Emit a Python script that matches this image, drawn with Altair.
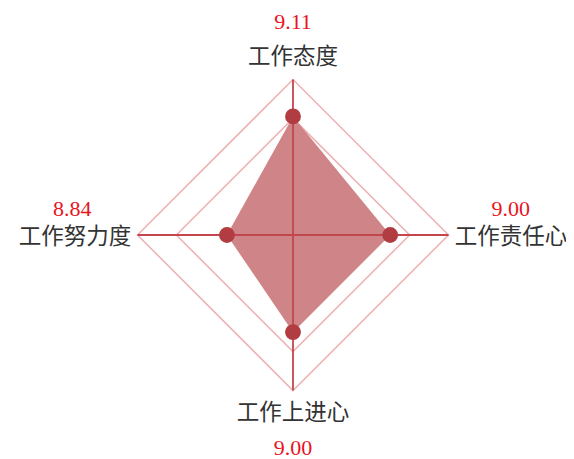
import altair as alt
import pandas as pd

categories = ["工作态度", "工作责任心", "工作上进心", "工作努力度"]
values = [9.11, 9.00, 9.00, 8.84]
ring_levels = [9.1, 9.3]
r_min, r_max = 8.5, 9.3

W, H = 558, 450
PX = 155.5  # pixels per unit radius
CX, CY = 285, 227
xdom = [-CX / PX, (W - CX) / PX]
ydom = [-(H - CY) / PX, CY / PX]

xs = alt.Scale(domain=xdom, nice=False, zero=False)
ys = alt.Scale(domain=ydom, nice=False, zero=False)
X = lambda f: alt.X(f, type="quantitative", scale=xs, axis=None)
Y = lambda f: alt.Y(f, type="quantitative", scale=ys, axis=None)

def rad(v):
    return (v - r_min) / (r_max - r_min)

dirs = [(0, 1), (1, 0), (0, -1), (-1, 0)]

axes_df = pd.DataFrame({
    "cat": categories,
    "value": values,
    "idx": list(range(len(categories))),
})

base = alt.Chart(axes_df).transform_calculate(
    ang="datum.idx * PI / 2",
    ux="round(sin(datum.ang))",
    uy="round(cos(datum.ang))",
    r="(datum.value - %f) / %f" % (r_min, r_max - r_min),
    px="datum.r * datum.ux",
    py="datum.r * datum.uy",
    label="format(datum.value, '.2f')",
)

# grid rings
ring_rows = []
for lv in ring_levels:
    for k in range(len(categories) + 1):
        dx, dy = dirs[k % len(categories)]
        ring_rows.append({"level": lv, "ord": k, "x": rad(lv) * dx, "y": rad(lv) * dy})
rings = alt.Chart(pd.DataFrame(ring_rows)).mark_line(
    color="#eeb4b6", strokeWidth=1.6
).encode(x=X("x"), y=Y("y"), detail="level:N", order="ord:Q")

# filled polygon (convex diamond drawn as area)
r = [rad(v) for v in values]
area_df = pd.DataFrame({
    "x": [-r[3], 0, r[1]],
    "y": [0, r[0], 0],
    "y2": [0, -r[2], 0],
})
fill = alt.Chart(area_df).mark_area(color="#cf8587", opacity=1).encode(
    x=X("x"), y=Y("y"), y2="y2"
)

# spokes
spokes = base.mark_rule(color="#c2464b", strokeWidth=1.8).encode(
    x=X("ux"), y=Y("uy"), x2=alt.value(CX), y2=alt.value(CY)
)

dots = base.mark_circle(color="#b13c42", size=250, opacity=1).encode(
    x=X("px"), y=Y("py")
)

name_font = "Noto Sans CJK SC"
num_font = "Liberation Serif"
NS = 22.5
VS = 22

names_v = base.transform_filter("datum.ux == 0").transform_calculate(
    lx="0", ly="datum.uy * 1.145"
).mark_text(font=name_font, fontSize=NS, color="#333333", baseline="middle", align="center").encode(
    x=X("lx"), y=Y("ly"), text="cat:N"
)
names_l = base.transform_filter("datum.ux < 0").transform_calculate(
    lx="-1.04", ly="-0.01"
).mark_text(font=name_font, fontSize=NS, color="#333333", baseline="middle", align="right").encode(
    x=X("lx"), y=Y("ly"), text="cat:N"
)
names_r = base.transform_filter("datum.ux > 0").transform_calculate(
    lx="1.04", ly="-0.01"
).mark_text(font=name_font, fontSize=NS, color="#333333", baseline="middle", align="left").encode(
    x=X("lx"), y=Y("ly"), text="cat:N"
)

vals_v = base.transform_filter("datum.ux == 0").transform_calculate(
    lx="0", ly="datum.uy * 1.37"
).mark_text(font=num_font, fontSize=VS, color="#e8141e", baseline="middle", align="center").encode(
    x=X("lx"), y=Y("ly"), text="label:N"
)
vals_h = base.transform_filter("datum.ux != 0").transform_calculate(
    lx="datum.ux > 0 ? 1.40 : -1.42", ly="0.17"
).mark_text(font=num_font, fontSize=VS, color="#e8141e", baseline="middle", align="center").encode(
    x=X("lx"), y=Y("ly"), text="label:N"
)

chart = alt.layer(
    rings, fill, spokes, dots, names_v, names_l, names_r, vals_v, vals_h
).properties(
    width=W, height=H, autosize=alt.AutoSizeParams(type="none"), padding=0
).configure_view(stroke=None)

chart.save("out.html", embed_options={"renderer": "svg", "actions": False})
